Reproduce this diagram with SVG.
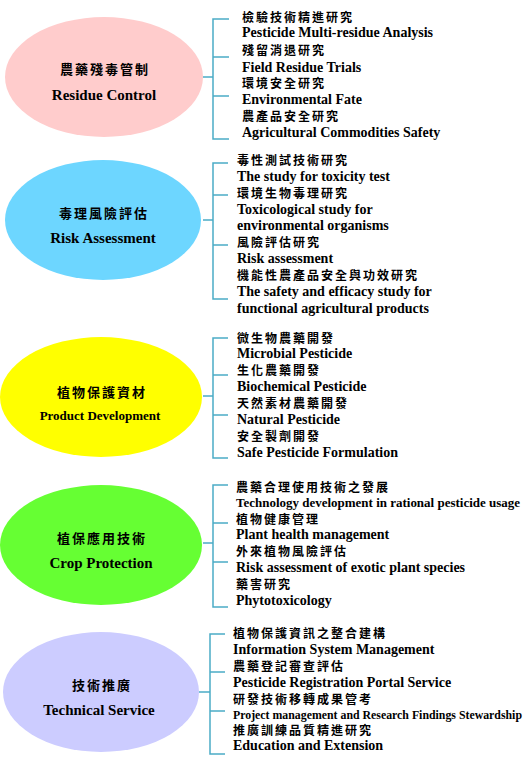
<svg xmlns="http://www.w3.org/2000/svg" width="530" height="760" viewBox="0 0 530 760">
<style>
.en{font-family:"Liberation Serif","Times New Roman",serif;font-weight:bold;font-size:14px;fill:#000}
.ens{font-family:"Liberation Serif","Times New Roman",serif;font-weight:bold;font-size:12.5px;fill:#000}
.zh{font-family:"Noto Sans CJK TC","Noto Sans CJK SC",sans-serif;font-weight:bold;font-size:12px;letter-spacing:2px;fill:#000}
.lbl{font-family:"Liberation Serif","Times New Roman",serif;font-weight:bold;font-size:15px;fill:#000;text-anchor:middle}
.lbls{font-family:"Liberation Serif","Times New Roman",serif;font-weight:bold;font-size:13px;fill:#000;text-anchor:middle}
.lzh{font-family:"Noto Sans CJK TC","Noto Sans CJK SC",sans-serif;font-weight:bold;font-size:13px;letter-spacing:2px;fill:#000;text-anchor:middle}
.br{fill:none;stroke:#4BACC6;stroke-width:1.5}
</style>
<rect width="530" height="760" fill="#fff"/>
<g id="connectors">
<path class="br" d="M203 77H213M229 19H213V139H229M213 57H229M213 96H229"/>
<path class="br" d="M203 220H213M228 163H213V299H228M213 195H228M213 245H228"/>
<path class="br" d="M203 396H213M228 338H213V458H228M213 375H228M213 415H228"/>
<path class="br" d="M203 543H213M228 485H213V607H228M213 523H228M213 562H228"/>
<path class="br" d="M199 692H210M225 634H210V754H225M210 672H225M210 711H225"/>
</g>
<g id="node-residue">
<ellipse cx="104" cy="77" rx="99" ry="60" fill="#FFCCCC"/>
<text class="lzh" x="105" y="74">農藥殘毒管制</text>
<text class="lbl" x="104" y="100">Residue Control</text>
</g>
<g id="node-risk">
<ellipse cx="103" cy="220" rx="98" ry="60" fill="#6DD6FF"/>
<text class="lzh" x="104" y="218">毒理風險評估</text>
<text class="lbl" x="103" y="243">Risk Assessment</text>
</g>
<g id="node-product">
<ellipse cx="101" cy="397" rx="101" ry="60" fill="#FFFF00"/>
<text class="lzh" x="102" y="397">植物保護資材</text>
<text class="lbls" x="100" y="420">Product Development</text>
</g>
<g id="node-crop">
<ellipse cx="101" cy="545" rx="101" ry="60" fill="#66FF33"/>
<text class="lzh" x="102" y="543">植保應用技術</text>
<text class="lbl" x="101" y="568">Crop Protection</text>
</g>
<g id="node-tech">
<ellipse cx="101" cy="692" rx="98" ry="60" fill="#CCCCFF"/>
<text class="lzh" x="102" y="690">技術推廣</text>
<text class="lbl" x="99" y="715">Technical Service</text>
</g>
<g id="items-residue">
<text class="zh" x="242" y="21.5">檢驗技術精進研究</text>
<text class="en" x="242" y="37">Pesticide Multi-residue Analysis</text>
<text class="zh" x="242" y="54.5">殘留消退研究</text>
<text class="en" x="242" y="71.5">Field Residue Trials</text>
<text class="zh" x="242" y="87.5">環境安全研究</text>
<text class="en" x="242" y="104">Environmental Fate</text>
<text class="zh" x="242" y="120.5">農產品安全研究</text>
<text class="en" x="242" y="137">Agricultural Commodities Safety</text>
</g>
<g id="items-risk">
<text class="zh" x="237" y="164.5">毒性測試技術研究</text>
<text class="en" x="237" y="181">The study for toxicity test</text>
<text class="zh" x="237" y="197.5">環境生物毒理研究</text>
<text class="en" x="237" y="214">Toxicological study for</text>
<text class="en" x="237" y="230">environmental organisms</text>
<text class="zh" x="237" y="246.5">風險評估研究</text>
<text class="en" x="237" y="263">Risk assessment</text>
<text class="zh" x="237" y="279.5">機能性農產品安全與功效研究</text>
<text class="en" x="237" y="296">The safety and efficacy study for</text>
<text class="en" x="237" y="313">functional agricultural products</text>
</g>
<g id="items-product">
<text class="zh" x="237" y="342.5">微生物農藥開發</text>
<text class="en" x="237" y="358">Microbial Pesticide</text>
<text class="zh" x="237" y="374.5">生化農藥開發</text>
<text class="en" x="237" y="391">Biochemical Pesticide</text>
<text class="zh" x="237" y="407.5">天然素材農藥開發</text>
<text class="en" x="237" y="424">Natural Pesticide</text>
<text class="zh" x="237" y="440.5">安全製劑開發</text>
<text class="en" x="237" y="457">Safe Pesticide Formulation</text>
</g>
<g id="items-crop">
<text class="zh" x="236" y="491.5">農藥合理使用技術之發展</text>
<text class="ens" x="236" y="506.5" textLength="284" lengthAdjust="spacingAndGlyphs">Technology development in rational pesticide usage</text>
<text class="zh" x="236" y="523.5">植物健康管理</text>
<text class="en" x="236" y="539">Plant health management</text>
<text class="zh" x="236" y="555.5">外來植物風險評估</text>
<text class="en" x="236" y="572">Risk assessment of exotic plant species</text>
<text class="zh" x="236" y="588.5">藥害研究</text>
<text class="en" x="236" y="605">Phytotoxicology</text>
</g>
<g id="items-tech">
<text class="zh" x="233" y="637.5">植物保護資訊之整合建構</text>
<text class="en" x="233" y="654">Information System Management</text>
<text class="zh" x="233" y="670.5">農藥登記審查評估</text>
<text class="en" x="233" y="687">Pesticide Registration Portal Service</text>
<text class="zh" x="233" y="703.5">研發技術移轉成果管考</text>
<text class="ens" x="233" y="718.5" style="font-size:12px" textLength="289" lengthAdjust="spacingAndGlyphs">Project management and Research Findings Stewardship</text>
<text class="zh" x="233" y="734.5">推廣訓練品質精進研究</text>
<text class="en" x="233" y="750">Education and Extension</text>
</g>
</svg>
